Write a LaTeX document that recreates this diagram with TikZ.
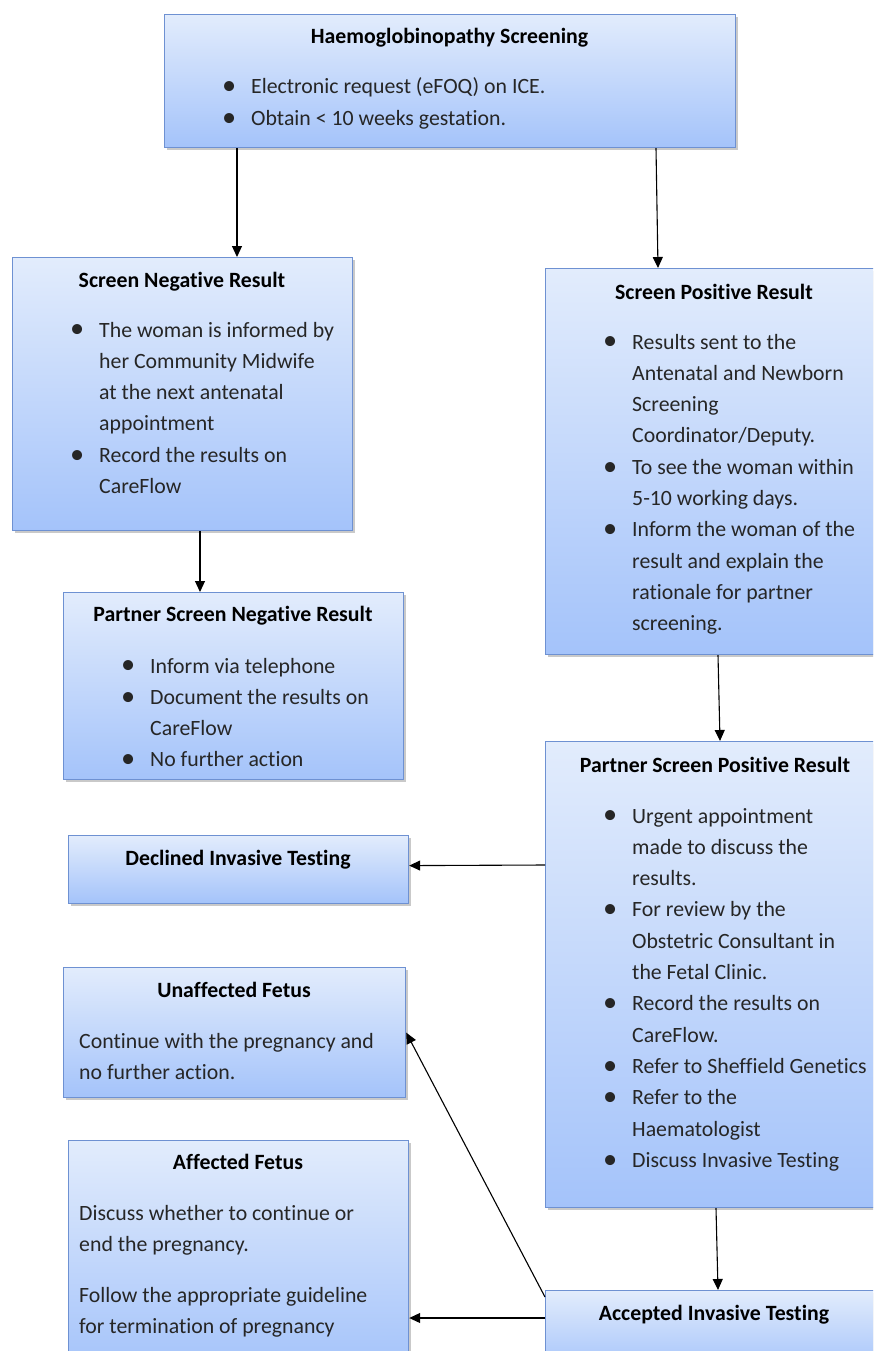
\documentclass[tikz,border=0pt]{standalone}
\usepackage{fontspec}
\setmainfont{Carlito}[Ligatures=NoCommon]
\usetikzlibrary{arrows.meta,shadows}
\definecolor{boxtop}{RGB}{226,236,252}
\definecolor{boxbot}{RGB}{164,195,250}
\definecolor{boxborder}{RGB}{110,145,210}
\newcommand{\bl}{\llap{\raisebox{-0.8pt}{\scalebox{1.3}{\textbullet}}\hspace{15pt}}}
\tikzset{
  box/.style={draw=boxborder, line width=1.2pt, top color=boxtop, bottom color=boxbot,
    anchor=north west, inner sep=0pt,
    drop shadow={shadow xshift=2.5pt, shadow yshift=-2.5pt, opacity=0.3, fill=black!70}},
  ttl/.style={font=\fontsize{21.8}{31.3}\selectfont\bfseries, inner sep=0pt, anchor=base, text=black},
  txt/.style={font=\fontsize{21.8}{31.3}\selectfont, inner sep=0pt, anchor=base west, text=black!85},
  arr/.style={-{Triangle[length=11pt,width=10pt]}, line width=1.1pt},
}
\begin{document}
\begin{tikzpicture}[x=1pt,y=-1pt]
\useasboundingbox (0,0) rectangle (873,1351);
\clip (0,0) rectangle (873,1351);
% boxes
\node[box, minimum width=571, minimum height=133] (top) at (164,14) {};
\node[box, minimum width=340, minimum height=273] (neg) at (12,257) {};
\node[box, minimum width=338, minimum height=386] (pos) at (545,268) {};
\node[box, minimum width=340, minimum height=187] (pneg) at (63,592) {};
\node[box, minimum width=338, minimum height=466] (ppos) at (545,741) {};
\node[box, minimum width=340, minimum height=68] (decl) at (68,835) {};
\node[box, minimum width=342, minimum height=130] (unaff) at (63,967) {};
\node[box, minimum width=340, minimum height=230] (aff) at (68,1140) {};
\node[box, minimum width=338, minimum height=80] (acc) at (545,1290) {};
% texts
\node[ttl] (topT) at (449.5,44) {Haemoglobinopathy Screening};
\node[txt] (topL) at (251,94) {\begin{tabular}[t]{@{}l@{}}
\bl Electronic request (eFOQ) on ICE.\\
\bl Obtain < 10 weeks gestation.
\end{tabular}};
\node[ttl] (negT) at (182,287) {Screen Negative Result};
\node[txt] (negL) at (99,337) {\begin{tabular}[t]{@{}l@{}}
\bl The woman is informed by\\
her Community Midwife\\
at the next antenatal\\
appointment\\
\bl Record the results on\\
CareFlow
\end{tabular}};
\node[ttl] (posT) at (714,299) {Screen Positive Result};
\node[txt] (posL) at (632,349) {\begin{tabular}[t]{@{}l@{}}
\bl Results sent to the\\
Antenatal and Newborn\\
Screening\\
Coordinator/Deputy.\\
\bl To see the woman within\\
5-10 working days.\\
\bl Inform the woman of the\\
result and explain the\\
rationale for partner\\
screening.
\end{tabular}};
\node[ttl] (pnegT) at (233,621) {Partner Screen Negative Result};
\node[txt] (pnegL) at (150,673) {\begin{tabular}[t]{@{}l@{}}
\bl Inform via telephone\\
\bl Document the results on\\
CareFlow\\
\bl No further action
\end{tabular}};
\node[ttl] (pposT) at (715,772) {Partner Screen Positive Result};
\node[txt] (pposL) at (632,823) {\begin{tabular}[t]{@{}l@{}}
\bl Urgent appointment\\
made to discuss the\\
results.\\
\bl For review by the\\
Obstetric Consultant in\\
the Fetal Clinic.\\
\bl Record the results on\\
CareFlow.\\
\bl Refer to Sheffield Genetics\\
\bl Refer to the\\
Haematologist\\
\bl Discuss Invasive Testing
\end{tabular}};
\node[ttl] (declT) at (238,865) {Declined Invasive Testing};
\node[ttl] (unaffT) at (234,997) {Unaffected Fetus};
\node[txt] (unaffL) at (79,1048) {\begin{tabular}[t]{@{}l@{}}
Continue with the pregnancy and\\
no further action.
\end{tabular}};
\node[ttl] (affT) at (238,1169) {Affected Fetus};
\node[txt] (affL1) at (79,1220) {\begin{tabular}[t]{@{}l@{}}
Discuss whether to continue or\\
end the pregnancy.
\end{tabular}};
\node[txt] (affL2) at (79,1302) {\begin{tabular}[t]{@{}l@{}}
Follow the appropriate guideline\\
for termination of pregnancy
\end{tabular}};
\node[ttl] (accT) at (714,1320) {Accepted Invasive Testing};
% connectors
\draw[arr] ([xshift=73]top.south west) -- ([xshift=225]neg.north west);
\draw[arr] ([xshift=492]top.south west) -- ([xshift=113]pos.north west);
\draw[arr] ([xshift=188]neg.south west) -- ([xshift=137]pneg.north west);
\draw[arr] ([xshift=173]pos.south west) -- ([xshift=175]ppos.north west);
\draw[arr] ([xshift=171]ppos.south west) -- ([xshift=173]acc.north west);
\draw[arr] ([yshift=-124]ppos.north west) -- ([yshift=4]decl.east);
\draw[arr] ([yshift=-7]acc.north west) -- (unaff.east);
\draw[arr] ([yshift=-28]acc.north west) -- ([yshift=-178]aff.north east);
\end{tikzpicture}
\end{document}
